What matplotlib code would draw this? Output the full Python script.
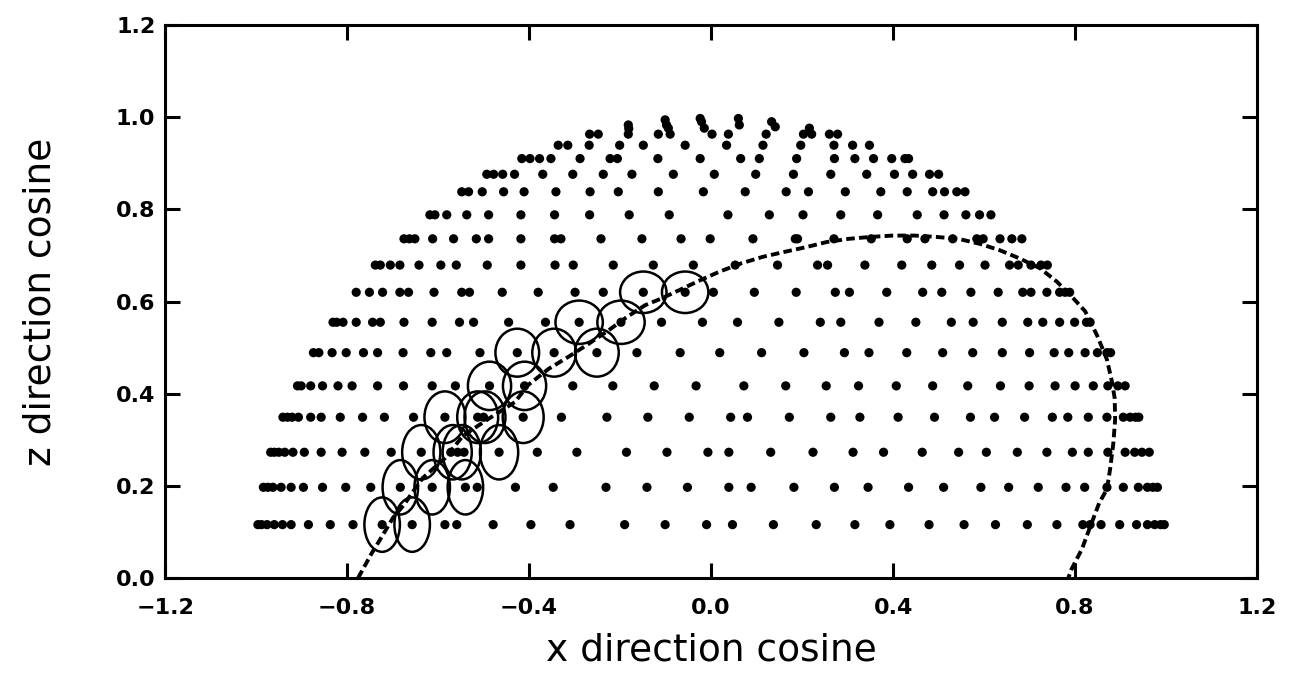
import numpy as np
import matplotlib
matplotlib.use("Agg")
import matplotlib.pyplot as plt
from matplotlib.patches import Ellipse

row_z = [0.116, 0.197, 0.273, 0.349, 0.417, 0.489, 0.555, 0.620,
         0.679, 0.736, 0.788, 0.838, 0.876, 0.910, 0.939, 0.963]
row_x = [
    [-0.996, -0.988, -0.976, -0.960, -0.942, -0.923, -0.885, -0.837, -0.787, -0.723,
     -0.657, -0.585, -0.559, -0.479, -0.396, -0.310, -0.190, -0.101, -0.010, 0.047,
     0.137, 0.231, 0.316, 0.393, 0.479, 0.556, 0.625, 0.695, 0.760, 0.817,
     0.833, 0.857, 0.898, 0.935, 0.959, 0.975, 0.988, 0.996],
    [-0.984, -0.974, -0.963, -0.945, -0.923, -0.896, -0.854, -0.803, -0.748, -0.683,
     -0.613, -0.540, -0.514, -0.430, -0.347, -0.231, -0.141, -0.052, 0.039, 0.088,
     0.182, 0.271, 0.345, 0.434, 0.511, 0.593, 0.654, 0.719, 0.780, 0.821,
     0.870, 0.906, 0.939, 0.959, 0.971, 0.981],
    [-0.968, -0.960, -0.950, -0.937, -0.919, -0.894, -0.857, -0.811, -0.761, -0.703,
     -0.637, -0.572, -0.557, -0.543, -0.466, -0.382, -0.295, -0.186, -0.097, -0.007,
     0.039, 0.131, 0.224, 0.312, 0.379, 0.464, 0.544, 0.605, 0.673, 0.738,
     0.794, 0.829, 0.872, 0.910, 0.931, 0.947, 0.963],
    [-0.941, -0.931, -0.921, -0.907, -0.880, -0.857, -0.815, -0.766, -0.718, -0.654,
     -0.585, -0.513, -0.500, -0.413, -0.329, -0.229, -0.139, -0.048, 0.043, 0.080,
     0.172, 0.263, 0.327, 0.411, 0.491, 0.570, 0.623, 0.689, 0.750, 0.784,
     0.829, 0.870, 0.906, 0.921, 0.933, 0.940],
    [-0.909, -0.901, -0.880, -0.854, -0.820, -0.789, -0.733, -0.676, -0.613, -0.562,
     -0.487, -0.410, -0.304, -0.216, -0.125, -0.033, 0.072, 0.164, 0.253, 0.324,
     0.407, 0.487, 0.564, 0.636, 0.699, 0.756, 0.800, 0.840, 0.872, 0.894, 0.910],
    [-0.874, -0.862, -0.833, -0.802, -0.764, -0.733, -0.677, -0.616, -0.581, -0.508,
     -0.426, -0.345, -0.251, -0.163, -0.068, 0.019, 0.111, 0.204, 0.293, 0.347,
     0.430, 0.509, 0.575, 0.640, 0.700, 0.754, 0.786, 0.822, 0.849, 0.870, 0.878],
    [-0.831, -0.823, -0.809, -0.780, -0.744, -0.727, -0.675, -0.613, -0.553, -0.522,
     -0.445, -0.364, -0.290, -0.198, -0.109, -0.019, 0.058, 0.149, 0.240, 0.285,
     0.369, 0.450, 0.528, 0.576, 0.640, 0.696, 0.729, 0.766, 0.799, 0.825, 0.833],
    [-0.780, -0.751, -0.722, -0.684, -0.665, -0.609, -0.548, -0.531, -0.459, -0.380,
     -0.299, -0.237, -0.149, -0.057, 0.005, 0.095, 0.187, 0.273, 0.304, 0.386,
     0.465, 0.507, 0.571, 0.631, 0.685, 0.703, 0.738, 0.766, 0.778, 0.788],
    [-0.738, -0.727, -0.705, -0.684, -0.642, -0.594, -0.560, -0.492, -0.418, -0.343,
     -0.303, -0.215, -0.127, -0.039, 0.053, 0.146, 0.234, 0.256, 0.338, 0.419,
     0.485, 0.546, 0.602, 0.656, 0.675, 0.703, 0.725, 0.739],
    [-0.675, -0.663, -0.651, -0.612, -0.566, -0.516, -0.489, -0.418, -0.344, -0.330,
     -0.242, -0.152, -0.066, -0.002, 0.092, 0.185, 0.190, 0.270, 0.352, 0.431,
     0.470, 0.531, 0.584, 0.598, 0.635, 0.661, 0.683],
    [-0.618, -0.607, -0.581, -0.537, -0.489, -0.418, -0.344, -0.267, -0.180, -0.092,
     0.037, 0.128, 0.202, 0.285, 0.366, 0.453, 0.512, 0.560, 0.590, 0.615],
    [-0.548, -0.533, -0.503, -0.456, -0.411, -0.341, -0.266, -0.204, -0.116, -0.017,
     0.075, 0.165, 0.214, 0.295, 0.373, 0.431, 0.487, 0.513, 0.540, 0.558],
    [-0.493, -0.478, -0.458, -0.432, -0.370, -0.304, -0.237, -0.174, -0.083, 0.007,
     0.098, 0.181, 0.263, 0.342, 0.403, 0.443, 0.480, 0.500],
    [-0.416, -0.398, -0.377, -0.352, -0.288, -0.222, -0.206, -0.117, -0.024, 0.065,
     0.106, 0.188, 0.271, 0.316, 0.357, 0.397, 0.426, 0.434],
    [-0.336, -0.315, -0.268, -0.201, -0.149, -0.057, 0.034, 0.114, 0.197, 0.270,
     0.311, 0.348],
    [-0.267, -0.248, -0.182, -0.116, -0.090, 0.002, 0.038, 0.121, 0.203, 0.221,
     0.260, 0.278],
]
# points near the pole that do not sit on a row
top_x = [-0.182, -0.181, -0.101, -0.098, -0.094, -0.024, -0.021, -0.015,
         0.060, 0.062, 0.133, 0.141, 0.216]
top_z = [0.983, 0.975, 0.994, 0.983, 0.976, 0.997, 0.990, 0.976,
         0.997, 0.983, 0.990, 0.979, 0.976]

# open rings along the track
ring_x = [-0.723, -0.657, -0.683, -0.613, -0.540, -0.637, -0.568, -0.548, -0.466,
          -0.585, -0.513, -0.497, -0.413, -0.487, -0.410, -0.426, -0.345, -0.251,
          -0.290, -0.198, -0.149, -0.057]
ring_z = [0.116, 0.116, 0.197, 0.197, 0.197, 0.273, 0.273, 0.273, 0.273,
          0.349, 0.349, 0.349, 0.349, 0.417, 0.417, 0.489, 0.489, 0.489,
          0.555, 0.555, 0.620, 0.620]
ring_w = [0.078, 0.078, 0.078, 0.078, 0.078, 0.084, 0.084, 0.084, 0.084,
          0.090, 0.090, 0.090, 0.090, 0.095, 0.095, 0.096, 0.096, 0.096,
          0.104, 0.104, 0.102, 0.102]
ring_h = [0.118, 0.118, 0.118, 0.118, 0.118, 0.118, 0.118, 0.118, 0.118,
          0.112, 0.112, 0.112, 0.112, 0.105, 0.105, 0.104, 0.104, 0.104,
          0.094, 0.094, 0.090, 0.090]

# dashed track
curve_x = [-0.776, -0.747, -0.723, -0.699, -0.675, -0.650, -0.634, -0.585, -0.545,
           -0.490, -0.431, -0.402, -0.357, -0.312, -0.268, -0.226, -0.187, -0.145,
           -0.108, -0.022, 0.019, 0.067, 0.114, 0.163, 0.209, 0.254, 0.303, 0.349,
           0.399, 0.448, 0.496, 0.543, 0.591, 0.635, 0.679, 0.723, 0.760, 0.796,
           0.822, 0.849, 0.870, 0.881, 0.887, 0.888, 0.884, 0.877, 0.870, 0.853,
           0.833, 0.815, 0.792, 0.785]
curve_z = [0.000, 0.052, 0.091, 0.131, 0.159, 0.195, 0.217, 0.260, 0.309,
           0.345, 0.382, 0.419, 0.454, 0.481, 0.509, 0.537, 0.565, 0.592,
           0.607, 0.647, 0.665, 0.683, 0.697, 0.708, 0.718, 0.729, 0.736, 0.740,
           0.743, 0.743, 0.740, 0.736, 0.725, 0.711, 0.693, 0.672, 0.643, 0.607,
           0.579, 0.525, 0.474, 0.426, 0.390, 0.344, 0.292, 0.237, 0.193, 0.163,
           0.111, 0.063, 0.019, 0.000]

xs = np.concatenate([np.array(r) for r in row_x] + [np.array(top_x)])
zs = np.concatenate([np.full(len(r), z) for r, z in zip(row_x, row_z)] + [np.array(top_z)])

plt.rcParams['font.family'] = ['DejaVu Sans']

fig = plt.figure(figsize=(13, 6.73), dpi=100)
ax = fig.add_axes([0.127, 0.141, 0.840, 0.822])

ax.scatter(xs, zs, s=44, c="black", edgecolors="none", zorder=3)
ax.plot(curve_x, curve_z, color="black", lw=2.8, dashes=(2.2, 1.1), zorder=4)
for x, z, w, h in zip(ring_x, ring_z, ring_w, ring_h):
    ax.add_patch(Ellipse((x, z), w, h, fill=False, ec="black", lw=1.8, zorder=5))

ax.set_xlim(-1.2, 1.2)
ax.set_ylim(0, 1.2)
ax.set_xticks([-1.2, -0.8, -0.4, 0.0, 0.4, 0.8, 1.2])
ax.set_yticks([0.0, 0.2, 0.4, 0.6, 0.8, 1.0, 1.2])
ax.set_xticklabels(["\u22121.2", "\u22120.8", "\u22120.4", "0.0", "0.4", "0.8", "1.2"])
ax.set_yticklabels(["0.0", "0.2", "0.4", "0.6", "0.8", "1.0", "1.2"])
ax.tick_params(direction="in", length=11, width=2.2, top=True, right=True,
               labelsize=16)
ax.tick_params(axis="x", pad=14)
ax.tick_params(axis="y", pad=7)
for lbl in ax.get_xticklabels() + ax.get_yticklabels():
    lbl.set_fontweight("bold")
for s in ax.spines.values():
    s.set_linewidth(2.2)

ax.set_xlabel("x direction cosine", fontsize=27)
ax.set_ylabel("z direction cosine", fontsize=27)
ax.xaxis.set_label_coords(0.5, -0.098)
ax.yaxis.set_label_coords(-0.098, 0.5)

fig.savefig("out.png", dpi=100)
